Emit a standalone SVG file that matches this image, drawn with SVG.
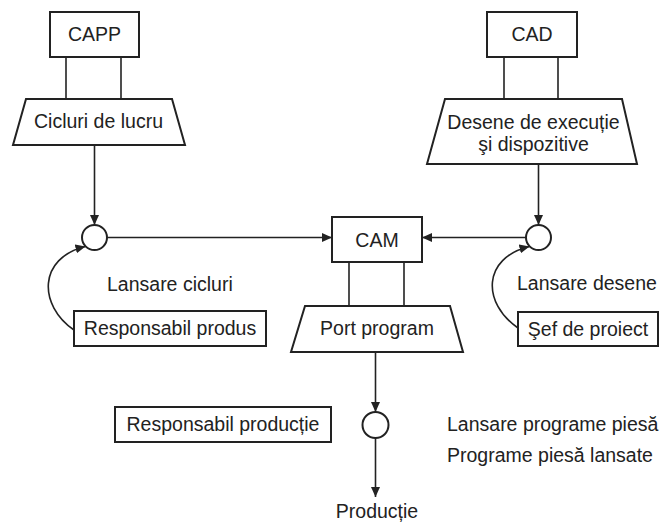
<svg xmlns="http://www.w3.org/2000/svg" width="663" height="522" viewBox="0 0 663 522">
<style>
.box{fill:#fff;stroke:#222;stroke-width:2}
.ln{fill:none;stroke:#222;stroke-width:1.6}
.t{font-family:"Liberation Sans",Arial,sans-serif;font-size:19.5px;fill:#222}
.m{text-anchor:middle}
</style>
<defs>
<marker id="ah" markerUnits="userSpaceOnUse" markerWidth="10" markerHeight="9" refX="10" refY="4.5" orient="auto">
<path d="M0,0 L10,4.5 L0,9 z" fill="#222"/>
</marker>
</defs>
<rect width="663" height="522" fill="#fff"/>
<g id="connectors">
<line class="ln" x1="66" y1="57" x2="66" y2="99"/>
<line class="ln" x1="121" y1="57" x2="121" y2="99"/>
<line class="ln" x1="504" y1="57" x2="504" y2="99"/>
<line class="ln" x1="558" y1="57" x2="558" y2="99"/>
<line class="ln" x1="349" y1="262" x2="349" y2="306"/>
<line class="ln" x1="404" y1="262" x2="404" y2="306"/>
<line class="ln" x1="94.5" y1="145" x2="94.5" y2="225" marker-end="url(#ah)"/>
<line class="ln" x1="538.5" y1="164" x2="538.5" y2="225" marker-end="url(#ah)"/>
<line class="ln" x1="107" y1="237.5" x2="332" y2="237.5" marker-end="url(#ah)"/>
<line class="ln" x1="526" y1="237.5" x2="422" y2="237.5" marker-end="url(#ah)"/>
<path class="ln" d="M74,330 C38,305 38,258 85.5,246.5" marker-end="url(#ah)"/>
<path class="ln" d="M518,328 C482,303 482,258 529.5,246.5" marker-end="url(#ah)"/>
<line class="ln" x1="375.5" y1="352" x2="375.5" y2="412" marker-end="url(#ah)"/>
<line class="ln" x1="375.5" y1="438" x2="375.5" y2="497" marker-end="url(#ah)"/>
</g>
<g id="capp"><rect class="box" x="50" y="12" width="89" height="45"/><text class="t m" x="94.5" y="41">CAPP</text></g>
<g id="cicluri"><polygon class="box" points="26,99 172,99 185,145 13,145"/><text class="t m" x="98.5" y="128">Cicluri de lucru</text></g>
<g id="cad"><rect class="box" x="487" y="12" width="90" height="45"/><text class="t m" x="532" y="41">CAD</text></g>
<g id="desene"><polygon class="box" points="445,99 622,99 637,164 427,164"/><text class="t m" x="533.5" y="129">Desene de execuție</text><text class="t m" x="533.5" y="151">şi dispozitive</text></g>
<g id="circle-left"><circle class="box" cx="94.5" cy="237.5" r="12.5" stroke-width="1.8"/></g>
<g id="circle-right"><circle class="box" cx="538.5" cy="237.5" r="12.5" stroke-width="1.8"/></g>
<g id="cam"><rect class="box" x="332" y="217" width="90" height="45"/><text class="t m" x="377" y="247">CAM</text></g>
<g id="port"><polygon class="box" points="305,306 450,306 463,352 291,352"/><text class="t m" x="377" y="335">Port program</text></g>
<g id="lansare-cicluri"><text class="t" x="107" y="291">Lansare cicluri</text></g>
<g id="resp-produs"><rect class="box" x="74" y="311" width="192" height="35"/><text class="t m" x="170" y="335">Responsabil produs</text></g>
<g id="lansare-desene"><text class="t" x="517" y="290">Lansare desene</text></g>
<g id="sef"><rect class="box" x="518" y="312" width="140" height="34"/><text class="t m" x="588" y="336">Şef de proiect</text></g>
<g id="resp-productie"><rect class="box" x="115" y="407" width="216" height="35"/><text class="t m" x="223" y="431">Responsabil producție</text></g>
<g id="circle-bottom"><circle class="box" cx="375.5" cy="425" r="13" stroke-width="1.8"/></g>
<g id="lansare-programe"><text class="t" x="447" y="431">Lansare programe piesă</text></g>
<g id="programe-lansate"><text class="t" x="447" y="462">Programe piesă lansate</text></g>
<g id="productie"><text class="t m" x="377" y="518">Producție</text></g>
</svg>
